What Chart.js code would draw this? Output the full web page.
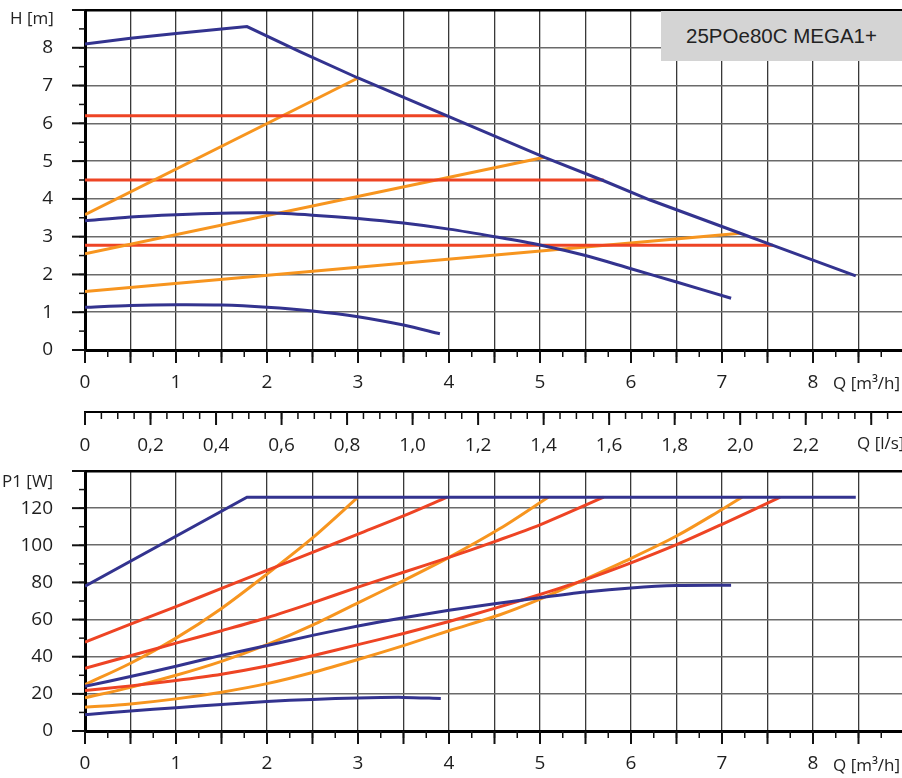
<!DOCTYPE html>
<html>
<head>
<meta charset="utf-8">
<script src="https://cdn.jsdelivr.net/npm/chart.js@4.4.0/dist/chart.umd.min.js"></script>
<style>
html, body { margin: 0; padding: 0; background: #fff; overflow: hidden; width: 902px; height: 778px; }
#wrap { position: relative; width: 902px; height: 778px; overflow: hidden; }
canvas { position: absolute; left: 0; }
#topChart { top: 0; }
#bottomChart { top: 460px; }
.lbl { position: absolute; font-family: 'Open Sans', sans-serif; font-size: 17px; color: #222; white-space: nowrap; line-height: 1; }
#model { position: absolute; left: 661px; top: 11px; width: 241px; height: 50px; background: #d4d4d4;
  font-family: 'Liberation Sans', Arial, sans-serif; font-size: 20.5px; color: #222;
  display: flex; align-items: center; justify-content: center; }
</style>
</head>
<body>
<div id="wrap">
  <canvas id="topChart" width="904" height="460"></canvas>
  <canvas id="bottomChart" width="904" height="318"></canvas>
  <div class="lbl" style="left:10px; top:9px;">H [m]</div>
  <div class="lbl" style="left:833px; top:374px;">Q [m³/h]</div>
  <div class="lbl" style="left:857px; top:434px;">Q [l/s]</div>
  <div class="lbl" style="left:2px; top:472px;">P1 [W]</div>
  <div class="lbl" style="left:833px; top:756px;">Q [m³/h]</div>
  <div id="model">25POe80C MEGA1+</div>
</div>
<script>
// colours
const blue = '#33338f';
const red = '#ee4424';
const orange = '#f7951f';

// ---- head H [m] over flow Q [m3/h] ----
// max speed curve
const qMaxH = [0, 0.5, 1, 1.5, 1.78, 2.36, 3, 3.98, 5.05, 5.7, 6.21, 7.2, 7.56, 8.47];
const hMax = [8.1, 8.25, 8.38, 8.5, 8.56, 7.9, 7.2, 6.2, 5.1, 4.48, 3.97, 3.09, 2.77, 1.96];
// middle curve
const qMidH = [0, 0.5, 1, 1.5, 2, 2.5, 3, 3.5, 4, 4.5, 5, 5.5, 6, 6.5, 7.1];
const hMid = [3.42, 3.52, 3.58, 3.62, 3.63, 3.57, 3.48, 3.36, 3.2, 3.0, 2.78, 2.5, 2.15, 1.8, 1.37];
// min curve
const qLowH = [0, 0.5, 1, 1.5, 2, 2.5, 3, 3.5, 3.9];
const hLow = [1.13, 1.18, 1.2, 1.19, 1.13, 1.03, 0.88, 0.66, 0.43];
// constant pressure (red)
const hConst = [6.2, 4.5, 2.77];
const qConstEnd = [3.98, 5.7, 7.56];
// proportional pressure (orange)
const hPropStart = [3.58, 2.55, 1.55];
const hPropEnd = [7.2, 5.1, 3.09];
const qPropEnd = [3.0, 5.05, 7.2];

// ---- power P1 [W] over flow Q [m3/h] ----
const qMaxP = [0, 1.78, 8.47];
const pMax = [78, 125.9, 125.9];
const qMidP = [0, 0.5, 1, 1.5, 2, 2.5, 3, 3.5, 4, 4.5, 5, 5.5, 6, 6.5, 7.1];
const pMid = [24.1, 29.3, 34.9, 40.7, 46, 51.5, 56.5, 61, 65, 68.5, 71.8, 74.8, 77, 78.3, 78.5];
const qLowP = [0, 0.5, 1, 1.5, 2, 2.5, 3, 3.5, 3.91];
const pLow = [8.8, 10.8, 12.5, 14.3, 15.9, 17, 17.8, 18.1, 17.5];
const qRed1 = [0, 0.5, 1, 1.5, 2, 2.5, 3, 3.5, 3.98];
const pRed1 = [47.8, 57.5, 67, 76.8, 86.5, 96.2, 106, 115.8, 125.9];
const qRed2 = [0, 0.5, 1, 1.5, 2, 2.5, 3, 3.5, 4, 4.5, 5, 5.7];
const pRed2 = [33.8, 40.5, 47.3, 54, 61, 69, 77.5, 85.5, 93.5, 102, 111, 125.9];
const qRed3 = [0, 0.5, 1, 1.5, 2, 2.5, 3, 3.5, 4, 4.5, 5, 5.5, 6, 6.5, 7, 7.64];
const pRed3 = [21.8, 24.3, 27.2, 30.6, 35, 40.5, 46.5, 52.5, 59, 66, 73.5, 81.5, 90.5, 100.3, 111.3, 125.9];
const qOr1 = [0, 0.5, 1, 1.5, 2, 2.5, 3];
const pOr1 = [25, 36.5, 50, 66, 84.5, 104, 125.9];
const qOr2 = [0, 0.5, 1, 1.5, 2, 2.5, 3, 3.5, 4, 4.56, 5.09];
const pOr2 = [17.9, 23.5, 30, 37.5, 46.5, 57, 69, 81, 93.5, 109, 125.9];
const qOr3 = [0, 0.5, 1, 1.5, 2, 2.5, 3, 3.5, 4, 4.56, 5, 5.48, 6, 6.5, 7, 7.22];
const pOr3 = [12.8, 14.6, 17.3, 20.9, 25.5, 31.5, 38.5, 46, 54, 62.6, 71, 81.4, 93, 105, 119.3, 125.9];

function series(q, v, color, tension) {
  return {
    data: q.map((x, i) => ({x: x, y: v[i]})),
    borderColor: color,
    borderWidth: 3,
    pointRadius: 0,
    fill: false,
    tension: tension === undefined ? 0.3 : tension
  };
}

// axis tick marks of different length, placed by the scales
const tickMarks = {
  id: 'tickMarks',
  afterDraw(chart, args, opts) {
    const ctx = chart.ctx;
    ctx.save();
    ctx.strokeStyle = '#111';
    (opts.list || []).forEach(m => {
      const s = chart.scales[m.scale];
      ctx.lineWidth = m.w;
      for (let i = 0; i * m.step <= s.max + 1e-9; i++) {
        const p = s.getPixelForValue(i * m.step);
        ctx.beginPath();
        if (s.isHorizontal()) {
          ctx.moveTo(p, s.top);
          ctx.lineTo(p, s.top + m.len);
        } else {
          ctx.moveTo(s.right - m.len, p);
          ctx.lineTo(s.right, p);
        }
        ctx.stroke();
      }
    });
    ctx.restore();
  }
};

// no extra room for the outer tick labels
function noPad(s) {
  s.paddingTop = 0;
  s.paddingBottom = 0;
  s.paddingLeft = 0;
  s.paddingRight = 0;
}

const tickFont = {family: 'Open Sans', size: 19};
const tickColor = '#1e1e1e';

function xScale(pad) {
  return {
    type: 'linear', position: 'bottom', weight: 0, min: 0, max: 9,
    afterFit: s => { s.height = pad.h; noPad(s); },
    border: {display: true, color: '#000', width: 3},
    grid: {
      drawTicks: false,
      color: c => c.tick.value === 0 ? 'rgba(0,0,0,0)' : '#383838',
      lineWidth: 1.3
    },
    ticks: {
      stepSize: 0.5, autoSkip: false, maxRotation: 0, padding: pad.p,
      font: tickFont, color: tickColor,
      callback: v => (Number.isInteger(v) && v < 9) ? String(v) : ''
    }
  };
}

function yScale(max, step) {
  return {
    type: 'linear', min: 0, max: max,
    afterFit: s => { s.width = 85; noPad(s); },
    border: {display: true, color: '#000', width: 3},
    grid: {
      drawTicks: false,
      color: c => c.tick.value === max ? '#000' : (c.tick.value === 0 ? 'rgba(0,0,0,0)' : '#6a6a6a'),
      lineWidth: c => c.tick.value === max ? 2.5 : 1.6
    },
    ticks: {
      stepSize: step, padding: 32, font: tickFont, color: tickColor,
      callback: v => v < max ? String(v) : ''
    }
  };
}

const topSets = [
  series(qMaxH, hMax, blue, 0),
  series(qMidH, hMid, blue),
  series(qLowH, hLow, blue)
];
for (let i = 0; i < hConst.length; i++) {
  topSets.push(series([0, qConstEnd[i]], [hConst[i], hConst[i]], red, 0));
  topSets.push(series([0, qPropEnd[i]], [hPropStart[i], hPropEnd[i]], orange, 0));
}

const topChart = new Chart(document.getElementById('topChart'), {
  type: 'line',
  data: {datasets: topSets},
  options: {
    responsive: false, animation: false, events: [],
    layout: {padding: {top: 10, left: 0, right: 0, bottom: 0}},
    plugins: {
      legend: {display: false}, tooltip: {enabled: false},
      tickMarks: {list: [
        {scale: 'y', step: 1, len: 13, w: 2},
        {scale: 'y', step: 0.5, len: 6, w: 1.5},
        {scale: 'x', step: 0.5, len: 13, w: 2},
        {scale: 'x', step: 0.25, len: 7, w: 1.5},
        {scale: 'xls', step: 0.2, len: 13, w: 2},
        {scale: 'xls', step: 0.05, len: 7, w: 1.5}
      ]}
    },
    scales: {
      x: xScale({h: 62, p: 21}),
      xls: {
        type: 'linear', position: 'bottom', weight: 1, min: 0, max: 9 / 3.6,
        afterFit: s => { s.height = 48; noPad(s); },
        border: {display: true, color: '#000', width: 2},
        grid: {drawOnChartArea: false, drawTicks: false},
        ticks: {
          stepSize: 0.2, autoSkip: false, maxRotation: 0, padding: 22,
          font: tickFont, color: tickColor,
          callback: v => v === 0 ? '0' : (v < 2.3 ? v.toFixed(1).replace('.', ',') : '')
        }
      },
      y: yScale(9, 1)
    }
  },
  plugins: [tickMarks]
});

const bottomSets = [
  series(qMaxP, pMax, blue, 0),
  series(qMidP, pMid, blue),
  series(qLowP, pLow, blue),
  series(qRed1, pRed1, red),
  series(qRed2, pRed2, red),
  series(qRed3, pRed3, red),
  series(qOr1, pOr1, orange),
  series(qOr2, pOr2, orange),
  series(qOr3, pOr3, orange)
];

const bottomChart = new Chart(document.getElementById('bottomChart'), {
  type: 'line',
  data: {datasets: bottomSets},
  options: {
    responsive: false, animation: false, events: [],
    layout: {padding: {top: 11, left: 0, right: 0, bottom: 0}},
    plugins: {
      legend: {display: false}, tooltip: {enabled: false},
      tickMarks: {list: [
        {scale: 'y', step: 20, len: 13, w: 2},
        {scale: 'y', step: 10, len: 6, w: 1.5},
        {scale: 'x', step: 0.5, len: 13, w: 2},
        {scale: 'x', step: 0.25, len: 7, w: 1.5}
      ]}
    },
    scales: {
      x: xScale({h: 47, p: 21}),
      y: yScale(140, 20)
    }
  },
  plugins: [tickMarks]
});
</script>
</body>
</html>
